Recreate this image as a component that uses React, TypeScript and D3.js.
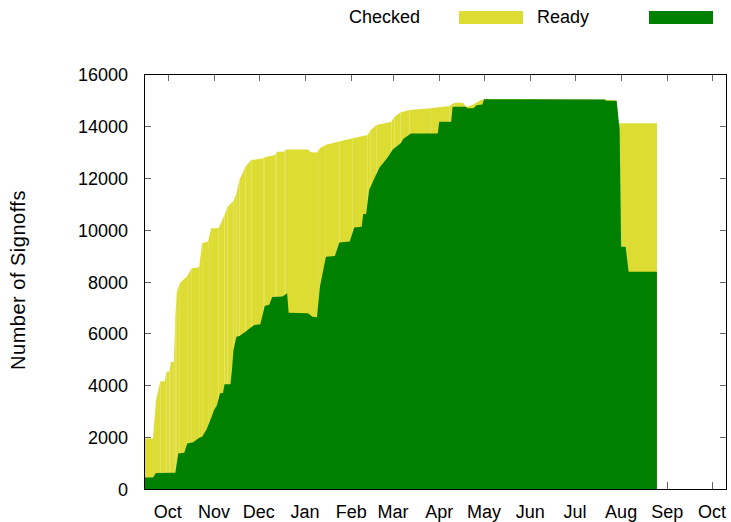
import React from 'react';
import * as d3 from 'd3';

const monthTicks = ['2009-10-01','2009-11-01','2009-12-01','2010-01-01','2010-02-01','2010-03-01','2010-04-01','2010-05-01','2010-06-01','2010-07-01','2010-08-01','2010-09-01','2010-10-01'];
const monthLabels = ['Oct','Nov','Dec','Jan','Feb','Mar','Apr','May','Jun','Jul','Aug','Sep','Oct'];
const yTicks = [0,2000,4000,6000,8000,10000,12000,14000,16000];

const checkedDates = ['2009-09-15','2009-09-21','2009-09-23','2009-09-26','2009-09-29','2009-09-30','2009-10-02','2009-10-03','2009-10-05','2009-10-06','2009-10-07','2009-10-09','2009-10-14','2009-10-17','2009-10-22','2009-10-24','2009-10-28','2009-10-30','2009-11-04','2009-11-08','2009-11-10','2009-11-14','2009-11-16','2009-11-18','2009-11-22','2009-11-26','2009-12-04','2009-12-05','2009-12-12','2009-12-13','2009-12-18','2009-12-19','2010-01-03','2010-01-05','2010-01-09','2010-01-11','2010-01-15','2010-01-24','2010-02-02','2010-02-12','2010-02-14','2010-02-18','2010-02-28','2010-03-02','2010-03-06','2010-03-12','2010-03-26','2010-04-08','2010-04-11','2010-04-17','2010-04-19','2010-04-23','2010-04-29','2010-05-02','2010-07-21','2010-07-29','2010-07-30','2010-08-25'];
const checkedValues = [1950,1950,3400,4150,4150,4520,4520,4900,4900,6600,7600,7930,8210,8510,8550,9470,9540,10050,10050,10560,10880,11100,11400,11910,12425,12680,12750,12790,12875,13000,13000,13090,13090,12980,12970,13135,13270,13400,13520,13650,13840,14030,14160,14350,14520,14610,14675,14765,14890,14890,14740,14800,14995,15030,15020,14970,14100,14100];

const readyDates = ['2009-09-15','2009-09-21','2009-09-23','2009-10-06','2009-10-08','2009-10-12','2009-10-14','2009-10-18','2009-10-22','2009-10-24','2009-10-27','2009-10-30','2009-11-01','2009-11-03','2009-11-05','2009-11-07','2009-11-08','2009-11-12','2009-11-13','2009-11-14','2009-11-16','2009-11-18','2009-11-22','2009-11-25','2009-11-28','2009-12-02','2009-12-05','2009-12-08','2009-12-10','2009-12-17','2009-12-20','2009-12-21','2010-01-03','2010-01-06','2010-01-09','2010-01-11','2010-01-15','2010-01-21','2010-01-24','2010-01-31','2010-02-03','2010-02-08','2010-02-09','2010-02-11','2010-02-13','2010-02-17','2010-02-20','2010-02-25','2010-03-01','2010-03-06','2010-03-08','2010-03-13','2010-03-31','2010-04-01','2010-04-09','2010-04-10','2010-04-19','2010-04-20','2010-04-24','2010-04-26','2010-04-30','2010-05-01','2010-07-21','2010-07-22','2010-07-29','2010-07-31','2010-08-01','2010-08-04','2010-08-06','2010-08-25'];
const readyValues = [440,440,620,630,1370,1400,1750,1800,1980,2015,2300,2725,3050,3240,3690,3700,4040,4040,4590,5360,5870,5900,6065,6195,6320,6350,7055,7100,7400,7420,7545,6800,6780,6640,6620,7800,8955,8980,9500,9540,10080,10110,10600,10600,11525,12040,12400,12750,13100,13325,13500,13710,13710,14160,14160,14740,14740,14675,14675,14800,14820,15030,15020,14970,14970,13840,9340,9340,8380,8380];

const seriesNames = ['Checked', 'Ready'];

const W = 731, H = 522;
const left = 144, right = 727, top = 74, bottom = 489;
const FONT = '"Liberation Sans", Arial, sans-serif';
const YELLOW = '#dcdc32';
const GREEN = '#008000';

const parse = d3.timeParse('%Y-%m-%d');

export default function App() {
  const x = d3.scaleTime()
    .domain([new Date(2009, 8, 15), new Date(2010, 9, 11)])
    .range([left, right]);
  const y = d3.scaleLinear().domain([0, 16000]).range([bottom, top]);

  const checked = checkedDates.map((d, i) => ({ date: parse(d) as Date, v: checkedValues[i] }));
  const ready = readyDates.map((d, i) => ({ date: parse(d) as Date, v: readyValues[i] }));

  const area = d3.area<{ date: Date; v: number }>()
    .x(d => x(d.date))
    .y0(y(0))
    .y1(d => y(d.v));

  // checked area drawn segment by segment (like the original's per-point boxes)
  const segs = checked.slice(0, -1).map((d, i) => area([d, checked[i + 1]]) as string);

  return (
    <svg width={W} height={H} style={{ position: 'absolute', left: 0, top: 0, background: '#fff' }}
      fontFamily={FONT} fontSize={18}>
      <rect x={0} y={0} width={W} height={H} fill="#fff" />
      {/* x ticks (behind data) */}
      {monthTicks.map((m, i) => {
        const xx = Math.round(x(parse(m) as Date)) + 0.5;
        return (
          <g key={'xt' + i} stroke="#666" strokeWidth={1}>
            <line x1={xx} x2={xx} y1={bottom} y2={bottom - 7} />
            <line x1={xx} x2={xx} y1={top} y2={top + 7} />
          </g>
        );
      })}
      {segs.map((p, i) => (
        <path key={'c' + i} d={p} fill={YELLOW} />
      ))}
      <path d={area(ready) as string} fill={GREEN} />
      {/* y ticks */}
      {yTicks.map((t, i) => {
        const yy = Math.round(y(t)) + 0.5;
        return (
          <g key={'yt' + i}>
            <line x1={left} x2={left + 7} y1={yy} y2={yy} stroke="#666" />
            <line x1={right - 7} x2={right} y1={yy} y2={yy} stroke="#666" />
            <text x={128} y={yy + 6.5} textAnchor="end" fill="#000">{t}</text>
          </g>
        );
      })}
      {monthLabels.map((l, i) => (
        <text key={'xl' + i} x={x(parse(monthTicks[i]) as Date)} y={518} textAnchor="middle" fill="#000">{l}</text>
      ))}
      {/* frame */}
      <rect x={left + 0.5} y={top + 0.5} width={right - left - 1} height={bottom - top} fill="none" stroke="#000" strokeWidth={1} />
      {/* y label */}
      <text transform={`translate(25,280) rotate(-90)`} textAnchor="middle" fill="#000" fontSize={20} letterSpacing={0.5}>Number of Signoffs</text>
      {/* legend */}
      <text x={420} y={23} textAnchor="end" fill="#000">{seriesNames[0]}</text>
      <rect x={459} y={11} width={64} height={13} fill={YELLOW} />
      <text x={589} y={23} textAnchor="end" fill="#000">{seriesNames[1]}</text>
      <rect x={649} y={11} width={64} height={13} fill={GREEN} />
    </svg>
  );
}
